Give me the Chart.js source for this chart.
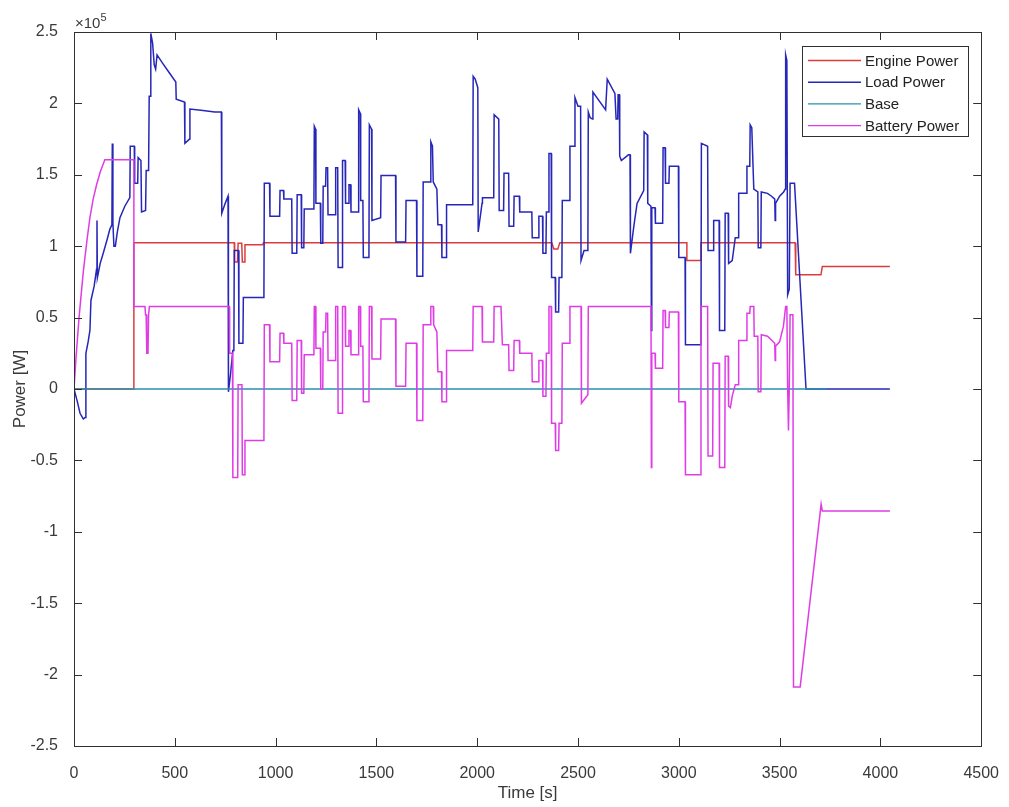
<!DOCTYPE html>
<html>
<head>
<meta charset="utf-8">
<title>Power</title>
<script src="https://cdn.jsdelivr.net/npm/chart.js@4.4.1/dist/chart.umd.min.js"></script>
<style>
  html, body { margin: 0; padding: 0; background: #fff; }
  canvas { display: block; }
</style>
</head>
<body>
<canvas id="powerChart" width="1009" height="807"></canvas>
<script>
/* ---- data: [time in s, power in 1e5 W] ---- */
const enginePower = [
  [0, 0], [297, 0], [297, 1.025], [795, 1.025], [797, 0.89], [811, 0.89], [814, 1.02], [832, 1.02],
  [835, 0.89], [846, 0.89], [848, 1.01], [937, 1.01], [940, 1.025], [2370, 1.025], [2380, 0.98],
  [2400, 0.98], [2410, 1.025], [3040, 1.025], [3040, 0.90], [3110, 0.90], [3110, 1.025], [3577, 1.025],
  [3580, 0.80], [3705, 0.80], [3712, 0.857], [4047, 0.857]
];

const loadPower = [
  [0, 0], [15, -0.08], [30, -0.17], [46, -0.21], [55, -0.2], [59, 0.25], [70, 0.33], [79, 0.41], [84, 0.62],
  [100, 0.72], [112, 0.84], [114, 1.18], [116, 0.78], [130, 0.88], [145, 0.95], [165, 1.05], [178, 1.12],
  [188, 1.15], [190, 1.72], [193, 1.16], [198, 1.0], [205, 1.0], [215, 1.1], [228, 1.2], [252, 1.28],
  [277, 1.34], [279, 1.70], [299, 1.70], [301, 1.44], [316, 1.44], [318, 1.62], [332, 1.60], [335, 1.24],
  [355, 1.25], [358, 1.53], [370, 1.53], [373, 2.05], [378, 2.05], [381, 2.49], [390, 2.42], [398, 2.27],
  [405, 2.24], [412, 2.34], [440, 2.28], [470, 2.22], [505, 2.15], [507, 2.03], [548, 2.01], [550, 1.72],
  [573, 1.75], [575, 1.96], [640, 1.95], [698, 1.94], [731, 1.94], [733, 1.23], [750, 1.30], [764, 1.35],
  [766, -0.02], [776, 0.1], [788, 0.27], [793, 0.27], [795, 0.97], [816, 0.97], [818, 0.32], [838, 0.32],
  [840, 0.64], [942, 0.64], [944, 1.44], [970, 1.44], [972, 1.21], [1020, 1.21], [1022, 1.39], [1039, 1.39],
  [1041, 1.33], [1080, 1.33], [1082, 0.95], [1105, 0.95], [1107, 1.36], [1127, 1.36], [1129, 0.99],
  [1140, 0.99], [1142, 1.26], [1190, 1.26], [1192, 1.84], [1198, 1.82], [1200, 1.30], [1222, 1.30],
  [1224, 1.02], [1234, 1.02], [1236, 1.42], [1248, 1.42], [1250, 1.55], [1258, 1.55], [1260, 1.22],
  [1296, 1.22], [1298, 1.55], [1308, 1.55], [1310, 0.85], [1330, 0.85], [1332, 1.60], [1345, 1.60],
  [1347, 1.30], [1362, 1.30], [1364, 1.43], [1372, 1.43], [1374, 1.24], [1410, 1.24], [1412, 1.955],
  [1420, 1.93], [1422, 1.32], [1433, 1.32], [1435, 0.92], [1463, 0.92], [1465, 1.85], [1476, 1.82],
  [1478, 1.18], [1521, 1.20], [1523, 1.495], [1595, 1.495], [1597, 1.03], [1645, 1.03], [1647, 1.32],
  [1699, 1.32], [1701, 0.79], [1730, 0.79], [1732, 1.45], [1768, 1.45], [1770, 1.73], [1778, 1.70],
  [1782, 1.45], [1800, 1.40], [1805, 1.15], [1823, 1.15], [1825, 0.92], [1846, 0.92], [1848, 1.29],
  [1978, 1.29], [1980, 2.19], [1990, 2.17], [2003, 2.11], [2005, 1.10], [2024, 1.30], [2026, 1.34],
  [2082, 1.34], [2084, 1.92], [2107, 1.89], [2109, 1.25], [2131, 1.25], [2133, 1.51], [2156, 1.51],
  [2158, 1.14], [2181, 1.14], [2183, 1.35], [2209, 1.35], [2211, 1.24], [2271, 1.24], [2273, 1.06],
  [2304, 1.06], [2306, 1.21], [2324, 1.21], [2326, 0.95], [2341, 0.95], [2343, 1.24], [2354, 1.24],
  [2356, 1.65], [2367, 1.65], [2369, 0.78], [2387, 0.78], [2389, 0.54], [2404, 0.54], [2406, 0.78],
  [2420, 0.78], [2422, 1.32], [2458, 1.32], [2460, 1.70], [2483, 1.70], [2485, 2.04], [2500, 1.98],
  [2513, 1.98], [2515, 0.90], [2530, 0.97], [2549, 0.97], [2551, 1.94], [2560, 1.90], [2572, 1.89],
  [2574, 2.08], [2637, 1.955], [2645, 2.17], [2683, 2.07], [2689, 1.89], [2697, 1.89], [2699, 2.06],
  [2705, 2.06], [2707, 1.63], [2715, 1.60], [2750, 1.64], [2758, 1.64], [2760, 0.95], [2777, 1.14],
  [2793, 1.30], [2826, 1.39], [2828, 1.80], [2844, 1.78], [2846, 1.30], [2862, 1.28], [2864, 0.41],
  [2866, 1.27], [2882, 1.27], [2884, 1.16], [2920, 1.16], [2922, 1.69], [2932, 1.69], [2934, 1.44],
  [2951, 1.44], [2953, 1.56], [2998, 1.56], [3000, 0.92], [3031, 0.92], [3033, 0.31], [3110, 0.31],
  [3112, 1.72], [3143, 1.70], [3145, 0.97], [3171, 0.97], [3173, 1.18], [3200, 1.18], [3202, 0.41],
  [3228, 0.41], [3230, 1.23], [3245, 1.23], [3247, 0.88], [3265, 0.90], [3280, 1.06], [3295, 1.06],
  [3297, 1.37], [3336, 1.37], [3338, 1.56], [3352, 1.56], [3354, 1.85], [3362, 1.83], [3372, 1.40],
  [3392, 1.38], [3394, 0.99], [3407, 0.99], [3409, 1.38], [3440, 1.37], [3460, 1.35], [3476, 1.33],
  [3478, 1.18], [3480, 1.30], [3500, 1.35], [3520, 1.38], [3528, 1.40], [3530, 2.34], [3536, 2.30],
  [3540, 0.66], [3548, 0.70], [3552, 1.44], [3574, 1.44], [3631, 0], [4047, 0]
];

const basePower = [[0, 0], [3733, 0]];

const batteryPower = [
  [0, 0], [10, 0.22], [25, 0.5], [46, 0.82], [65, 1.05], [79, 1.2], [95, 1.33], [112, 1.43], [130, 1.52],
  [153, 1.605], [297, 1.605], [297, 0.577], [352, 0.577], [355, 0.52], [358, 0.52], [361, 0.25], [367, 0.25],
  [370, 0.52], [374, 0.577], [770, 0.577], [772, 0.25], [786, 0.25], [788, -0.62], [812, -0.62], [814, 0.03],
  [833, 0.03], [835, -0.6], [846, -0.6], [848, -0.36], [942, -0.36], [944, 0.45], [970, 0.45], [972, 0.19],
  [1020, 0.19], [1022, 0.39], [1039, 0.39], [1041, 0.32], [1080, 0.32], [1082, -0.08], [1105, -0.08],
  [1107, 0.34], [1127, 0.34], [1129, -0.03], [1140, -0.03], [1142, 0.24], [1190, 0.24], [1192, 0.577],
  [1198, 0.577], [1200, 0.285], [1222, 0.285], [1224, 0.0], [1234, 0.0], [1236, 0.40], [1248, 0.40],
  [1250, 0.53], [1258, 0.53], [1260, 0.20], [1296, 0.20], [1298, 0.577], [1308, 0.577], [1310, -0.17],
  [1330, -0.17], [1332, 0.577], [1345, 0.577], [1347, 0.30], [1362, 0.30], [1364, 0.41], [1372, 0.41],
  [1374, 0.24], [1410, 0.24], [1412, 0.577], [1420, 0.577], [1422, 0.30], [1433, 0.30], [1435, -0.09],
  [1463, -0.09], [1465, 0.577], [1476, 0.577], [1478, 0.21], [1521, 0.21], [1523, 0.49], [1595, 0.49],
  [1597, 0.02], [1645, 0.02], [1647, 0.32], [1699, 0.32], [1701, -0.22], [1730, -0.22], [1732, 0.45],
  [1768, 0.45], [1770, 0.577], [1782, 0.577], [1784, 0.45], [1800, 0.40], [1805, 0.12], [1823, 0.12],
  [1825, -0.09], [1846, -0.09], [1848, 0.27], [1978, 0.27], [1980, 0.577], [2024, 0.577], [2026, 0.33],
  [2082, 0.33], [2084, 0.577], [2118, 0.577], [2120, 0.50], [2125, 0.31], [2156, 0.31], [2158, 0.13],
  [2181, 0.13], [2183, 0.34], [2209, 0.34], [2211, 0.25], [2271, 0.25], [2273, 0.05], [2304, 0.05],
  [2306, 0.20], [2324, 0.20], [2326, -0.05], [2341, -0.05], [2343, 0.25], [2354, 0.25], [2356, 0.577],
  [2367, 0.577], [2369, -0.24], [2387, -0.24], [2389, -0.43], [2404, -0.43], [2406, -0.24], [2420, -0.24],
  [2422, 0.32], [2458, 0.32], [2460, 0.577], [2515, 0.577], [2517, -0.10], [2549, -0.04], [2551, 0.577],
  [2862, 0.577], [2864, -0.55], [2866, 0.25], [2882, 0.25], [2884, 0.145], [2920, 0.145], [2922, 0.55],
  [2932, 0.55], [2934, 0.43], [2951, 0.43], [2953, 0.54], [2998, 0.54], [3000, -0.09], [3031, -0.09],
  [3033, -0.60], [3108, -0.60], [3110, 0.577], [3143, 0.577], [3145, -0.47], [3168, -0.47], [3170, 0.18],
  [3200, 0.18], [3202, -0.55], [3228, -0.55], [3230, 0.23], [3245, 0.23], [3247, -0.12], [3256, -0.13],
  [3265, -0.05], [3280, 0.03], [3295, 0.03], [3297, 0.34], [3336, 0.34], [3338, 0.53], [3352, 0.53],
  [3354, 0.577], [3372, 0.577], [3374, 0.37], [3392, 0.37], [3394, -0.02], [3407, -0.02], [3409, 0.38],
  [3440, 0.37], [3476, 0.32], [3478, 0.20], [3480, 0.30], [3500, 0.33], [3519, 0.44], [3530, 0.577],
  [3536, 0.577], [3540, 0.0], [3544, -0.29], [3548, 0.0], [3552, 0.52], [3566, 0.52], [3569, -2.086],
  [3602, -2.086], [3706, -0.806], [3712, -0.855], [4047, -0.855]
];

const SERIES_NAMES = ['Engine Power', 'Load Power', 'Base', 'Battery Power'];
const X_TICKS = [0, 500, 1000, 1500, 2000, 2500, 3000, 3500, 4000, 4500];
const X_TICK_LABELS = ['0', '500', '1000', '1500', '2000', '2500', '3000', '3500', '4000', '4500'];
const Y_TICKS = [-2.5, -2, -1.5, -1, -0.5, 0, 0.5, 1, 1.5, 2, 2.5];
const Y_TICK_LABELS = ['-2.5', '-2', '-1.5', '-1', '-0.5', '0', '0.5', '1', '1.5', '2', '2.5'];

/* ---- look ---- */
const COLORS = ['#dc3c3c', '#2626b8', '#2891ad', '#e03ce6'];
const AXIS_COLOR = '#303030';
const TEXT_COLOR = '#3a3a3a';
const FONT = '"Liberation Sans", Arial, sans-serif';

const toXY = arr => arr.map(p => ({ x: p[0], y: p[1] }));

// matlab style box, inward ticks, exponent and legend
const matlabAxes = {
  id: 'matlabAxes',
  afterDraw(chart) {
    const { ctx, chartArea: a, scales } = chart;
    const tl = 8;
    ctx.save();
    ctx.strokeStyle = AXIS_COLOR;
    ctx.lineWidth = 1;
    ctx.beginPath();
    X_TICKS.forEach(v => {
      const x = Math.round(scales.x.getPixelForValue(v)) + 0.5;
      ctx.moveTo(x, a.bottom); ctx.lineTo(x, a.bottom - tl);
      ctx.moveTo(x, a.top); ctx.lineTo(x, a.top + tl);
    });
    Y_TICKS.forEach(v => {
      const y = Math.round(scales.y.getPixelForValue(v)) + 0.5;
      ctx.moveTo(a.left, y); ctx.lineTo(a.left + tl, y);
      ctx.moveTo(a.right, y); ctx.lineTo(a.right - tl, y);
    });
    ctx.stroke();
    ctx.strokeRect(Math.round(a.left) + 0.5, Math.round(a.top) + 0.5,
      Math.round(a.right - a.left), Math.round(a.bottom - a.top));

    // x10^5 multiplier
    ctx.fillStyle = TEXT_COLOR;
    ctx.textBaseline = 'alphabetic';
    ctx.textAlign = 'left';
    ctx.font = '15px ' + FONT;
    ctx.fillText('\u00d710', a.left + 1, a.top - 4);
    const w = ctx.measureText('\u00d710').width;
    ctx.font = '11px ' + FONT;
    ctx.fillText('5', a.left + 1 + w, a.top - 11);

    // legend box
    const bx = 802.5, by = 46.5, bw = 166, bh = 90;
    ctx.fillStyle = '#fff';
    ctx.fillRect(bx, by, bw, bh);
    ctx.strokeStyle = AXIS_COLOR;
    ctx.strokeRect(bx, by, bw, bh);
    ctx.font = '15px ' + FONT;
    ctx.textBaseline = 'middle';
    chart.data.datasets.forEach((ds, i) => {
      const y = 60.5 + i * 21.7;
      ctx.strokeStyle = ds.borderColor;
      ctx.lineWidth = 1.4;
      ctx.beginPath();
      ctx.moveTo(808, y); ctx.lineTo(861, y);
      ctx.stroke();
      ctx.fillStyle = '#222';
      ctx.fillText(ds.label, 865, y + 1);
    });
    ctx.restore();
  }
};

const ctx = document.getElementById('powerChart').getContext('2d');
new Chart(ctx, {
  type: 'line',
  data: {
    datasets: [enginePower, loadPower, basePower, batteryPower].map((d, i) => ({
      label: SERIES_NAMES[i],
      data: toXY(d),
      borderColor: COLORS[i],
      borderWidth: 1.5,
      pointRadius: 0,
      tension: 0,
      fill: false,
      order: 3 - i   // later series drawn on top, like matlab
    }))
  },
  options: {
    responsive: false,
    animation: false,
    layout: { padding: { top: 32, right: 26, left: 0, bottom: 0 } },
    plugins: { legend: { display: false }, tooltip: { enabled: false } },
    scales: {
      x: {
        type: 'linear',
        min: 0, max: 4500,
        afterFit: s => { s.height = 61; },
        afterBuildTicks: s => { s.ticks = X_TICKS.map(v => ({ value: v })); },
        grid: { display: false },
        border: { display: false },
        ticks: {
          autoSkip: false, maxRotation: 0, padding: 10,
          color: TEXT_COLOR, font: { family: FONT, size: 16 },
          callback: (v, i) => X_TICK_LABELS[i]
        },
        title: {
          display: true, text: 'Time [s]', color: TEXT_COLOR,
          font: { family: FONT, size: 17 }, padding: { top: 0, bottom: 3 }
        }
      },
      y: {
        type: 'linear',
        min: -2.5, max: 2.5,
        afterFit: s => { s.width = 74; },
        afterBuildTicks: s => { s.ticks = Y_TICKS.map(v => ({ value: v })); },
        grid: { display: false },
        border: { display: false },
        ticks: {
          autoSkip: false, padding: 8,
          color: TEXT_COLOR, font: { family: FONT, size: 16 },
          callback: (v, i) => Y_TICK_LABELS[i]
        },
        title: {
          display: true, text: 'Power [W]', color: TEXT_COLOR,
          font: { family: FONT, size: 17 }, padding: { top: 10, bottom: 0 }
        }
      }
    }
  },
  plugins: [matlabAxes]
});
</script>
</body>
</html>
